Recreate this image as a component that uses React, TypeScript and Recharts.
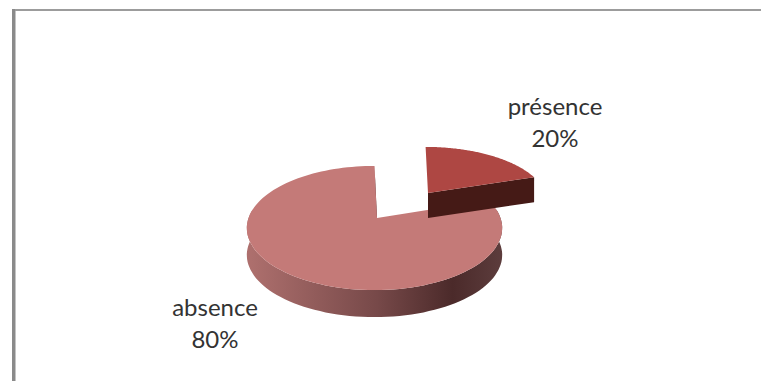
import React from 'react';
import { PieChart, Pie } from 'recharts';

const sliceNames = ['absence', 'présence'];
const sliceValues = [80, 20];
const chartData = sliceNames.map((name, i) => ({ name, value: sliceValues[i] }));

const TILT = 0.48; // vertical squash of the pie disc
const PERSPECTIVE = 0.161;
const DEPTH = 27;

const topColors: Record<string, string> = { absence: '#c47a78', 'présence': '#ae4743' };
const wallColors: Record<string, string> = { absence: '#4a2a2a', 'présence': '#451a16' };

const rad = (deg: number) => (deg * Math.PI) / 180;

// Projects a point of the disc (r in 0..1, angle in degrees) on to the screen
function project(r: number, deg: number, R: number) {
  const d = 1 + PERSPECTIVE * r * Math.sin(rad(deg));
  return {
    x: (r * R * Math.cos(rad(deg))) / d - 2.5 * r,
    y: (-r * R * TILT * Math.sin(rad(deg))) / d,
  };
}

const PieSlice = (props: any) => {
  const { cx, cy, outerRadius: R, startAngle, endAngle } = props;
  const name = props.payload?.name ?? props.name;
  const exploded = name === 'présence';
  const ox = cx + (exploded ? 51 : 0);
  const oy = cy + (exploded ? -25 : 0);
  const sx = exploded ? 0.95 : 1;
  const sy = exploded ? 0.885 : 1;
  const depth = exploded ? 25 : DEPTH;
  const pt = (r: number, deg: number) => {
    const p = project(r, deg, R);
    return { x: ox + p.x * sx, y: oy + p.y * sy };
  };
  const toD = (pts: { x: number; y: number }[]) =>
    pts.map((p, i) => `${i ? 'L' : 'M'}${p.x.toFixed(1)} ${p.y.toFixed(1)}`).join(' ') + ' Z';

  const steps = 120;
  const arc: number[] = [];
  for (let i = 0; i <= steps; i++) arc.push(startAngle + ((endAngle - startAngle) * i) / steps);
  const rim = arc.map((a) => pt(1, a));
  const apex = { x: ox, y: oy };
  const down = (p: { x: number; y: number }) => ({ x: p.x, y: p.y + depth });

  // outer wall only where the rim faces the viewer
  const front = arc.filter((a) => a >= -190 && a <= 10).map((a) => pt(1, a));
  const frontD = front.length > 1 ? toD([...front, ...front.map(down).reverse()]) : '';

  const edge = pt(1, endAngle);
  const edgeD = toD([apex, edge, down(edge), down(apex)]);
  const gradId = `rim-${exploded ? 'b' : 'a'}`;

  return (
    <g>
      <defs>
        <linearGradient id={gradId} gradientUnits="userSpaceOnUse" x1={cx - R} x2={cx + R} y1={0} y2={0}>
          <stop offset="0" stopColor="#ad6f6d" />
          <stop offset="0.5" stopColor="#774949" />
          <stop offset="0.8" stopColor="#4b2a2a" />
          <stop offset="1" stopColor="#5d3d3d" />
        </linearGradient>
      </defs>
      <path d={edgeD} fill={wallColors[name]} />
      {frontD && <path d={frontD} fill={`url(#${gradId})`} />}
      <path d={toD([apex, ...rim])} fill={topColors[name]} />
    </g>
  );
};

const labelAnchors: Record<string, [number, number]> = {
  absence: [215, 316],
  'présence': [555, 115],
};

const SliceLabel = (props: any) => {
  const name = props.payload?.name ?? props.name;
  const [x, y] = labelAnchors[name];
  return (
    <text x={x} y={y} textAnchor="middle" fontFamily="Lato, sans-serif" fontSize={24} fill="#333">
      <tspan x={x}>{name}</tspan>
      <tspan x={x} dy={32}>{`${Math.round(props.percent * 100)}%`}</tspan>
    </text>
  );
};

export default function App() {
  return (
    <div style={{ position: 'fixed', left: 0, top: 0, width: 761, height: 381, background: '#fff' }}>
      <div style={{ position: 'absolute', left: 12, top: 9, width: 749, height: 2, background: '#9c9c9c' }} />
      <div style={{ position: 'absolute', left: 12, top: 9, width: 3, height: 372, background: '#8a8a8a' }} />
      <div style={{ position: 'absolute', left: 15, top: 11, width: 1, height: 370, background: '#c4c4c4' }} />
      <div style={{ position: 'absolute', left: 0, top: 0 }}>
        <PieChart width={761} height={381} margin={{ top: 0, right: 0, bottom: 0, left: 0 }}>
          <Pie
            data={chartData}
            dataKey="value"
            nameKey="name"
            cx={377}
            cy={218}
            outerRadius={126}
            startAngle={18}
            endAngle={-342}
            stroke="none"
            shape={PieSlice}
            label={SliceLabel}
            labelLine={false}
            isAnimationActive={false}
          />
        </PieChart>
      </div>
    </div>
  );
}
